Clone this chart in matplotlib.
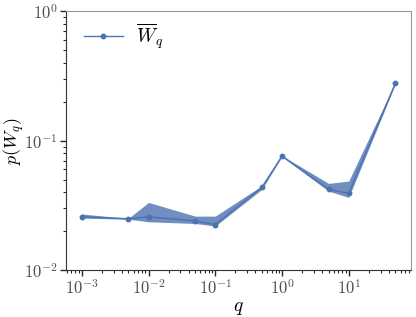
import numpy as np
import matplotlib
matplotlib.use('Agg')
import matplotlib.pyplot as plt

# values
q = [1e-3, 5e-3, 1e-2, 5e-2, 1e-1, 5e-1, 1, 5, 10, 50]
p_mean = [0.0258, 0.0249, 0.0257, 0.0240, 0.0224, 0.0436, 0.0759, 0.0420, 0.0391, 0.277]
p_low = [0.0252, 0.0247, 0.0236, 0.0229, 0.0219, 0.0420, 0.0752, 0.0407, 0.0364, 0.272]
p_high = [0.0271, 0.0251, 0.0333, 0.0261, 0.0261, 0.0448, 0.0766, 0.0467, 0.0487, 0.282]

plt.rcParams['mathtext.fontset'] = 'cm'
plt.rcParams['font.family'] = 'serif'
plt.rcParams['font.serif'] = ['cmr10', 'DejaVu Serif']
plt.rcParams['axes.formatter.use_mathtext'] = True

color = '#4C72B0'

fig, ax = plt.subplots(figsize=(4.16, 3.17), dpi=100)
fig.subplots_adjust(left=0.159, right=0.988, top=0.965, bottom=0.148)

ax.fill_between(q, p_low, p_high, color=color, alpha=0.8, linewidth=0)
ax.plot(q, p_mean, marker='o', markersize=3.2, linewidth=1.0, color=color,
        label=r'$\overline{W}_q$')

ax.set_xscale('log')
ax.set_yscale('log')
ax.set_ylim(1e-2, 1)

ax.set_xlabel(r'$q$', fontsize=14, labelpad=1)
ax.set_ylabel(r'$p(W_q)$', fontsize=13)
ax.yaxis.set_label_coords(-0.117, 0.5)

ax.tick_params(which='major', length=4, width=1, pad=2, labelsize=12, colors='0.15', labelcolor='0.3')
ax.tick_params(which='minor', length=2.5, width=0.8, colors='0.15')
ax.tick_params(top=False, right=False, which='both')
for s in ['left', 'bottom']:
    ax.spines[s].set_color('0.2')
for s in ['top', 'right']:
    ax.spines[s].set_color('0.6')

ax.legend(loc='upper left', bbox_to_anchor=(0.0, 1.025), frameon=False,
          fontsize=14, handlelength=2.0, handletextpad=0.7)

fig.savefig('out.png', dpi=100)
